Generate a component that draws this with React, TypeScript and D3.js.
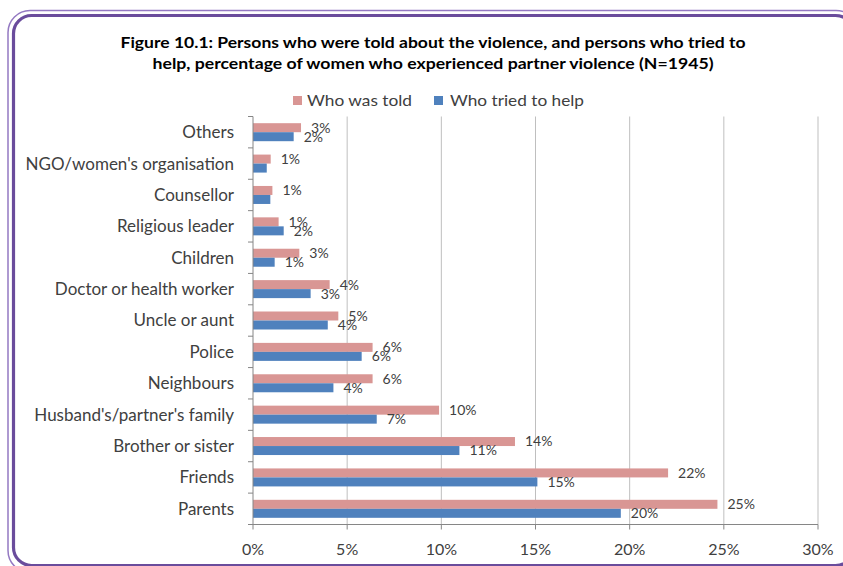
import React from "react";
import * as d3 from "d3";

const categories = [
  "Others",
  "NGO/women's organisation",
  "Counsellor",
  "Religious leader",
  "Children",
  "Doctor or health worker",
  "Uncle or aunt",
  "Police",
  "Neighbours",
  "Husband's/partner's family",
  "Brother or sister",
  "Friends",
  "Parents",
];
const whoWasTold = [2.55, 0.94, 1.03, 1.36, 2.46, 4.07, 4.53, 6.35, 6.35, 9.88, 13.91, 22.04, 24.66];
const whoTriedToHelp = [2.16, 0.73, 0.92, 1.63, 1.15, 3.06, 3.97, 5.77, 4.27, 6.57, 10.96, 15.1, 19.53];
const toldLabels = ["3%", "1%", "1%", "1%", "3%", "4%", "5%", "6%", "6%", "10%", "14%", "22%", "25%"];
const helpLabels = ["2%", "", "", "2%", "1%", "3%", "4%", "6%", "4%", "7%", "11%", "15%", "20%"];
const xTicks = [0, 5, 10, 15, 20, 25, 30];
const seriesNames = ["Who was told", "Who tried to help"];
const titleLines = [
  "Figure 10.1: Persons who were told about the violence, and persons who tried to",
  "help, percentage of women who experienced partner violence (N=1945)",
];

const PINK = "#D99694";
const BLUE = "#4F81BD";
const TEXT = "#404040";
const FONT = "Lato, 'Open Sans', sans-serif";

export default function App() {
  const W = 843;
  const H = 566;
  const x = d3.scaleLinear().domain([0, 30]).range([253, 818]);
  const y = d3.scaleBand<string>().domain(categories).range([116.5, 524.5]).padding(0);
  const bw = y.bandwidth();
  const barH = 9;
  const top = 116.5;
  const bottom = 524.5;

  return (
    <svg width={W} height={H} style={{ position: "absolute", left: 0, top: 0, background: "#fff" }} fontFamily={FONT}>
      <rect x={0} y={0} width={W} height={H} fill="#fff" />
      {/* frame */}
      <rect x={8} y={10.5} width={850} height={562} rx={22} ry={22} fill="none" stroke="#9479C2" strokeWidth={1.5} />
      <rect x={13.5} y={15.5} width={840} height={550} rx={18} ry={18} fill="none" stroke="#6A4C9C" strokeWidth={3.2} />

      {/* title */}
      {titleLines.map((t, i) => (
        <text key={i} x={433} y={48 + i * 21} textAnchor="middle" fontWeight="bold" fontSize={15} fill="#000"
          textLength={i === 0 ? 625 : 561} lengthAdjust="spacingAndGlyphs">
          {t}
        </text>
      ))}

      {/* legend */}
      <rect x={293} y={96} width={9} height={9} fill={PINK} />
      <text x={307} y={106} fontSize={16} fill={TEXT} textLength={105} lengthAdjust="spacingAndGlyphs">{seriesNames[0]}</text>
      <rect x={434} y={96} width={9} height={9} fill={BLUE} />
      <text x={450} y={106} fontSize={16} fill={TEXT} textLength={134} lengthAdjust="spacingAndGlyphs">{seriesNames[1]}</text>

      {/* gridlines */}
      {xTicks.slice(1).map((t) => (
        <line key={t} x1={x(t)} x2={x(t)} y1={top} y2={bottom} stroke="#BFBFBF" strokeWidth={1} />
      ))}

      {/* bars */}
      {categories.map((c, i) => {
        const cy = (y(c) as number) + bw / 2;
        return (
          <g key={c}>
            <rect x={x(0)} y={cy - barH} width={x(whoWasTold[i]) - x(0)} height={barH} fill={PINK} />
            <rect x={x(0)} y={cy} width={x(whoTriedToHelp[i]) - x(0)} height={barH} fill={BLUE} />
            <text x={x(whoWasTold[i]) + 10} y={cy - barH / 2} dy="0.35em" fontSize={14} fill={TEXT}>{toldLabels[i]}</text>
            {helpLabels[i] && (
              <text x={x(whoTriedToHelp[i]) + 10} y={cy + barH / 2} dy="0.35em" fontSize={14} fill={TEXT}>{helpLabels[i]}</text>
            )}
            <text x={234} y={cy} dy="0.35em" textAnchor="end" fontSize={17} fill={TEXT}>{c}</text>
          </g>
        );
      })}

      {/* axes */}
      <line x1={x(0)} x2={x(0)} y1={top} y2={bottom} stroke="#868686" />
      {d3.range(categories.length + 1).map((i) => {
        const yy = top + i * bw;
        return <line key={i} x1={x(0) - 5} x2={x(0)} y1={yy} y2={yy} stroke="#868686" />;
      })}
      <line x1={x(0)} x2={x(30)} y1={bottom} y2={bottom} stroke="#868686" />
      {xTicks.map((t) => (
        <g key={t}>
          <line x1={x(t)} x2={x(t)} y1={bottom} y2={bottom + 5} stroke="#868686" />
          <text x={x(t)} y={549} dy="0.35em" textAnchor="middle" fontSize={16} fill={TEXT}>{t + "%"}</text>
        </g>
      ))}
    </svg>
  );
}
